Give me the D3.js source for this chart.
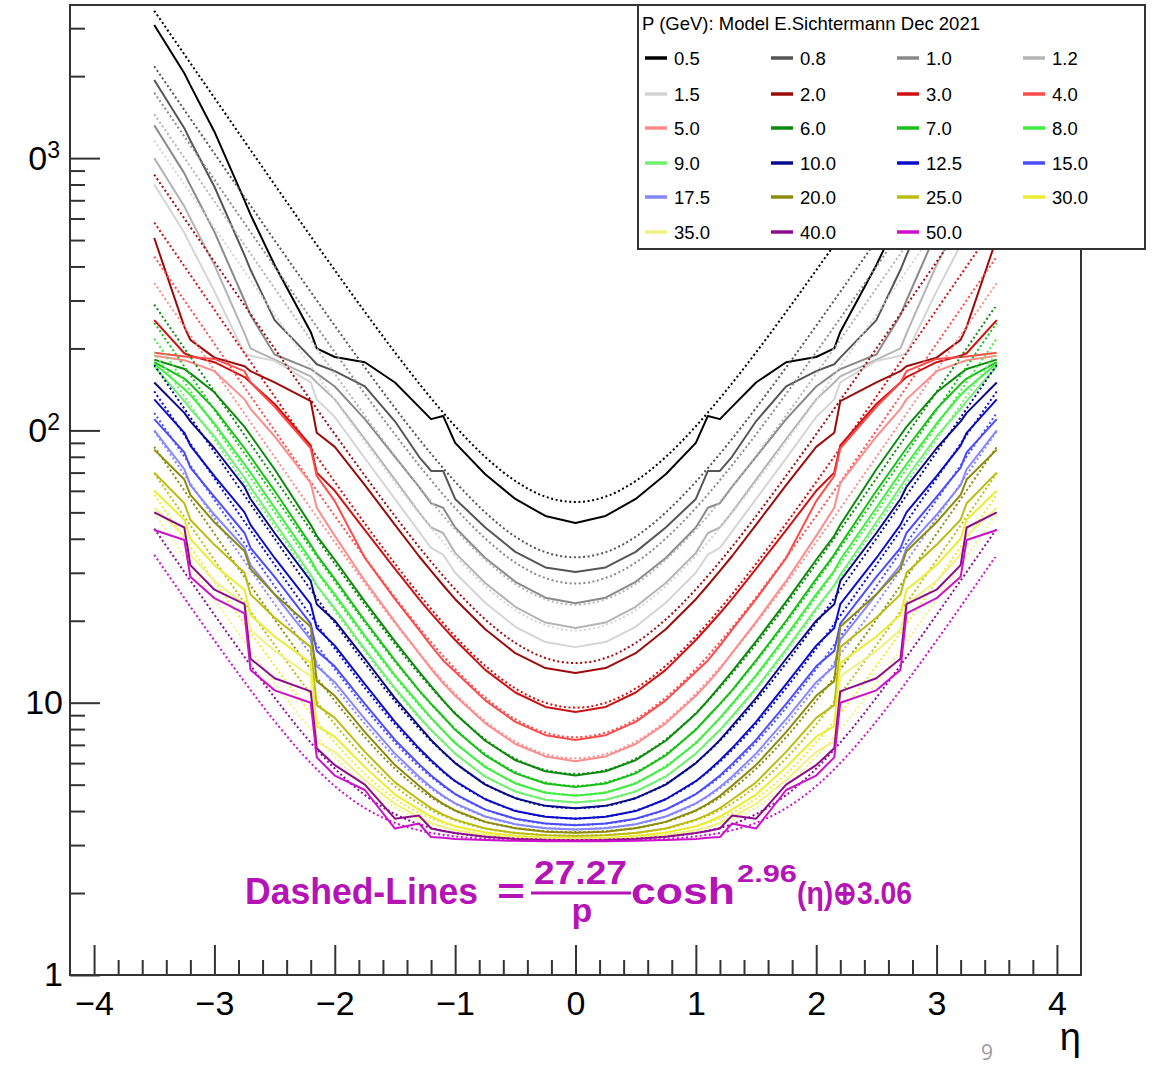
<!DOCTYPE html>
<html>
<head>
<meta charset="utf-8">
<script src="https://cdn.jsdelivr.net/npm/d3@7"></script>
<style>
  html, body { margin: 0; padding: 0; background: #fff; }
  svg { display: block; font-family: "Liberation Sans", Arial, Helvetica, sans-serif; }
</style>
</head>
<body>
<svg id="chart" width="1153" height="1065"></svg>
<script>
// Momentum bins (GeV) and their line colours
const momenta = ["0.5","0.8","1.0","1.2","1.5","2.0","3.0","4.0","5.0","6.0","7.0","8.0","9.0",
                 "10.0","12.5","15.0","17.5","20.0","25.0","30.0","35.0","40.0","50.0"];
const lineColors = ["#000000","#555555","#8a8a8a","#b4b4b4","#d4d4d4","#9c0a0a","#d01010","#ff4a4a",
                    "#ff8c8c","#0c8a0c","#18c018","#40ee40","#70f070","#0a0a8c","#0c0ccc","#4c4cff",
                    "#8686ff","#8c8c0c","#bcbc10","#ecec30","#f2f080","#8c0c8c","#cc10cc"];

// |eta| sampling points (curves are symmetric in eta)
const etaSolid  = [0, 0.25, 0.5, 0.75, 1.0, 1.1, 1.2, 1.3, 1.5, 1.75, 2.0, 2.15, 2.2, 2.5, 2.7, 2.75, 3.0, 3.2, 3.25, 3.5];
const etaDashed = [0, 0.25, 0.5, 0.75, 1.0, 1.25, 1.5, 1.75, 2.0, 2.25, 2.5, 2.75, 3.0, 3.25, 3.5];

// Model curves (solid), one array per momentum, sampled at etaSolid
const s0p5  = [45.7, 48.5, 56, 69, 90, 113, 110, 122, 150, 178, 186, 200, 230, 405, 620, 700, 1250, 1850, 2050, 3080];
const s0p8  = [30.2, 31.4, 35.8, 44, 56, 71, 71, 80, 108, 145, 165, 175, 185, 254, 389, 440, 785, 1161, 1288, 1936];
const s1p0  = [23.2, 24.3, 27.8, 34, 44, 52, 54, 62, 80, 110, 145, 162, 168, 190, 265, 300, 536, 793, 879, 1321];
const s1p2  = [18.8, 19.7, 22.5, 27.5, 35.5, 42, 44, 50, 66, 93, 130, 150, 158, 182, 200, 227, 405, 600, 665, 1000];
const s1p5  = [16.0, 16.7, 19, 23.3, 30, 35, 37, 42.5, 56, 79, 112, 130, 150, 180, 188, 192, 324, 480, 532, 800];
const s2p0  = [12.85, 13.4, 15.2, 18.6, 24, 27, 30.5, 34.5, 45, 63, 87, 98, 128, 150, 165, 172, 185, 215, 240, 509];
const s3p0  = [9.25, 9.65, 10.9, 13.2, 17, 19, 21.3, 24, 31, 43, 60, 70, 88, 125, 150, 157, 178, 188, 192, 254];
const s4p0  = [7.3, 7.6, 8.5, 10.2, 13.0, 14.3, 16.2, 18.5, 24, 34, 55, 68, 86, 122, 150, 165, 183, 186, 187, 193];
const s5p0  = [6.1, 6.35, 7.05, 8.4, 10.6, 11.8, 13.3, 15.2, 19.8, 28, 41, 52, 64, 95, 120, 130, 165, 178, 181, 188];
const s6p0  = [5.4, 5.6, 6.15, 7.25, 9.1, 10.2, 11.5, 13, 16.8, 23.5, 33.5, 41, 45, 72, 96, 103, 138, 162, 168, 182];
const s7p0  = [4.9, 5.05, 5.5, 6.4, 7.95, 8.9, 9.9, 11.1, 14.3, 20, 28.5, 35, 38, 60, 80, 86, 120, 148, 155, 178];
const s8p0  = [4.55, 4.67, 5.05, 5.8, 7.1, 7.9, 8.8, 9.9, 12.6, 17.6, 25, 30.5, 33.5, 52, 70, 75, 106, 135, 142, 176];
const s9p0  = [4.3, 4.4, 4.72, 5.35, 6.5, 7.2, 7.95, 8.9, 11.3, 15.7, 22.2, 27, 29.5, 46, 62, 67, 95, 120, 128, 172];
const s10p0 = [4.1, 4.18, 4.46, 5.0, 6.0, 6.6, 7.3, 8.2, 10.4, 14.5, 20, 23, 28, 42, 56, 62, 86, 108, 116, 150];
const s12p5 = [3.75, 3.81, 4.0, 4.42, 5.15, 5.6, 6.15, 6.8, 8.5, 11.7, 16.2, 18.8, 23, 34, 45, 50, 68, 88, 98, 130];
const s15p0 = [3.55, 3.6, 3.75, 4.05, 4.62, 4.98, 5.4, 5.95, 7.3, 9.9, 13.6, 15.5, 19.5, 29, 37, 42, 57, 73, 83, 110];
const s17p5 = [3.42, 3.46, 3.58, 3.82, 4.27, 4.55, 4.9, 5.35, 6.5, 8.7, 11.9, 13.6, 17, 25, 32, 37, 49, 63, 72, 100];
const s20p0 = [3.33, 3.36, 3.46, 3.65, 4.02, 4.25, 4.55, 4.95, 5.9, 7.8, 10.6, 12.0, 19, 25, 31, 36, 46, 58, 66, 85];
const s25p0 = [3.24, 3.26, 3.32, 3.45, 3.72, 3.88, 4.1, 4.4, 5.1, 6.6, 8.8, 9.8, 16, 20.5, 25, 30, 38, 47, 54, 70];
const s30p0 = [3.18, 3.19, 3.24, 3.34, 3.52, 3.65, 3.82, 4.05, 4.6, 5.8, 7.5, 8.2, 14, 17.5, 21, 26, 32, 40, 47, 60];
const s35p0 = [3.15, 3.16, 3.2, 3.27, 3.41, 3.5, 3.62, 3.8, 4.25, 5.2, 6.6, 7.2, 12.5, 15.5, 18.5, 23, 28, 35, 41, 52];
const s40p0 = [3.12, 3.13, 3.16, 3.22, 3.32, 3.38, 3.45, 3.85, 3.75, 5.0, 5.9, 6.8, 11.0, 12.3, 14.5, 23, 26, 32, 44, 50];
const s50p0 = [3.10, 3.10, 3.11, 3.13, 3.16, 3.19, 3.21, 3.6, 3.45, 4.78, 5.4, 6.3, 10.0, 11.1, 13.2, 21.3, 24.2, 29, 39.6, 43.1];

// Parametrisation (dashed), one array per momentum, sampled at etaDashed
const d0p5  = [54.6, 57.1, 65.2, 79.9, 103.6, 139.7, 193.4, 272.4, 387.6, 555, 799, 1152, 1664, 2404, 3478];
const d0p8  = [34.2, 35.7, 40.7, 50.0, 64.8, 87.3, 120.9, 170.3, 242.3, 347, 499, 720, 1040, 1503, 2174];
const d1p0  = [27.4, 28.7, 32.7, 40.1, 51.9, 69.9, 96.7, 136.2, 193.8, 277.6, 399.4, 576, 832, 1202, 1739];
const d1p2  = [22.9, 24.0, 27.3, 33.5, 43.3, 58.3, 80.6, 113.5, 161.5, 231.3, 332.8, 480, 693, 1002, 1449];
const d1p5  = [18.4, 19.3, 21.9, 26.8, 34.7, 46.7, 64.5, 90.8, 129.2, 185.1, 266.3, 384, 554.5, 801, 1159];
const d2p0  = [13.98, 14.6, 16.58, 20.22, 26.09, 35.06, 48.45, 68.17, 96.9, 138.8, 199.7, 288, 415.9, 601, 869.5];
const d3p0  = [9.59, 10.0, 11.28, 13.67, 17.54, 23.49, 32.38, 45.5, 64.67, 92.6, 133.1, 192, 277.3, 400.7, 579.7];
const d4p0  = [7.47, 7.77, 8.70, 10.45, 13.31, 17.73, 24.37, 34.19, 48.55, 69.47, 99.9, 144, 208, 300.5, 434.8];
const d5p0  = [6.25, 6.48, 7.20, 8.56, 10.81, 14.30, 19.58, 27.41, 38.88, 55.6, 79.94, 115.2, 166.4, 240.4, 347.8];
const d6p0  = [5.48, 5.66, 6.23, 7.33, 9.16, 12.04, 16.41, 22.91, 32.44, 46.37, 66.64, 96.05, 138.6, 200.3, 289.8];
const d7p0  = [4.95, 5.10, 5.57, 6.48, 8.01, 10.44, 14.15, 19.70, 27.86, 39.78, 57.14, 82.35, 118.8, 171.7, 248.4];
const d8p0  = [4.58, 4.70, 5.09, 5.86, 7.16, 9.25, 12.47, 17.30, 24.42, 34.83, 50.02, 72.07, 104.0, 150.3, 217.4];
const d9p0  = [4.31, 4.41, 4.74, 5.39, 6.52, 8.34, 11.17, 15.44, 21.75, 31.0, 44.48, 64.07, 92.5, 133.6, 193.2];
const d10p0 = [4.10, 4.18, 4.47, 5.03, 6.02, 7.63, 10.14, 13.96, 19.62, 27.93, 40.06, 57.68, 83.24, 120.2, 173.9];
const d12p5 = [3.76, 3.82, 4.02, 4.43, 5.15, 6.37, 8.32, 11.32, 15.80, 22.42, 32.10, 46.18, 66.61, 96.2, 139.1];
const d15p0 = [3.56, 3.60, 3.75, 4.06, 4.62, 5.57, 7.14, 9.58, 13.28, 18.76, 26.80, 38.52, 55.53, 80.19, 115.9];
const d17p5 = [3.43, 3.47, 3.58, 3.82, 4.26, 5.03, 6.32, 8.36, 11.49, 16.15, 23.03, 33.05, 47.63, 68.76, 99.4];
const d20p0 = [3.35, 3.38, 3.47, 3.65, 4.01, 4.64, 5.72, 7.47, 10.16, 14.21, 20.20, 28.96, 41.70, 60.18, 87.0];
const d25p0 = [3.25, 3.27, 3.33, 3.45, 3.70, 4.14, 4.93, 6.25, 8.33, 11.52, 16.27, 23.24, 33.41, 48.18, 69.63];
const d30p0 = [3.19, 3.20, 3.25, 3.34, 3.51, 3.84, 4.44, 5.47, 7.15, 9.75, 13.66, 19.44, 27.9, 40.19, 58.05];
const d35p0 = [3.16, 3.17, 3.20, 3.27, 3.40, 3.65, 4.12, 4.95, 6.33, 8.50, 11.81, 16.74, 23.97, 34.48, 49.78];
const d40p0 = [3.13, 3.14, 3.17, 3.22, 3.32, 3.52, 3.90, 4.58, 5.73, 7.58, 10.44, 14.72, 21.02, 30.21, 43.59];
const d50p0 = [3.11, 3.11, 3.13, 3.16, 3.23, 3.36, 3.62, 4.10, 4.94, 6.34, 8.55, 11.92, 16.92, 24.23, 34.91];

const solidSeries  = [s0p5, s0p8, s1p0, s1p2, s1p5, s2p0, s3p0, s4p0, s5p0, s6p0, s7p0, s8p0, s9p0,
                      s10p0, s12p5, s15p0, s17p5, s20p0, s25p0, s30p0, s35p0, s40p0, s50p0];
const dashedSeries = [d0p5, d0p8, d1p0, d1p2, d1p5, d2p0, d3p0, d4p0, d5p0, d6p0, d7p0, d8p0, d9p0,
                      d10p0, d12p5, d15p0, d17p5, d20p0, d25p0, d30p0, d35p0, d40p0, d50p0];

// Axis ticks
const xTickValues = [-4, -3, -2, -1, 0, 1, 2, 3, 4];
const yTickValues = [1, 10, 100, 1000];
const yTickExponents = { 100: "2", 1000: "3" };

// ---------------------------------------------------------------------------
const W = 1153, H = 1065;
const frame = { left: 70, right: 1081, top: 5, bottom: 975 };
const axisColor = "#333";
const formulaColor = "#b414b6";

const x = d3.scaleLinear().domain([-4.2, 4.2]).range([frame.left, frame.right]);
const y = d3.scaleLog().domain([1, 3650]).range([frame.bottom, frame.top]);

const svg = d3.select("#chart");
svg.append("rect").attr("width", W).attr("height", H).attr("fill", "#fff");

const defs = svg.append("defs");
defs.append("clipPath").attr("id", "plotClip").append("rect")
  .attr("x", frame.left).attr("y", frame.top)
  .attr("width", frame.right - frame.left).attr("height", frame.bottom - frame.top);
// the pad starts a little to the right of the canvas edge
defs.append("clipPath").attr("id", "padClip").append("rect")
  .attr("x", 27).attr("y", 0).attr("width", W - 27).attr("height", H);

// build a full -eta..+eta polyline from one symmetric half
function mirrored(etas, vals) {
  const pts = [];
  for (let i = etas.length - 1; i > 0; i--) pts.push([-etas[i], vals[i]]);
  for (let i = 0; i < etas.length; i++) pts.push([etas[i], vals[i]]);
  return pts;
}

const solidLine = d3.line().x(d => x(d[0])).y(d => y(d[1])).curve(d3.curveLinear);
const dashedLine = d3.line().x(d => x(d[0])).y(d => y(d[1])).curve(d3.curveMonotoneX);

const plot = svg.append("g").attr("clip-path", "url(#plotClip)");
momenta.forEach((p, i) => {
  plot.append("path")
    .attr("d", solidLine(mirrored(etaSolid, solidSeries[i])))
    .attr("fill", "none").attr("stroke", lineColors[i])
    .attr("stroke-width", 2).attr("stroke-linejoin", "round");
  plot.append("path")
    .attr("d", dashedLine(mirrored(etaDashed, dashedSeries[i])))
    .attr("fill", "none").attr("stroke", lineColors[i])
    .attr("stroke-width", 2).attr("stroke-dasharray", "2,2.6");
});

// ---- axes -----------------------------------------------------------------
const xMinorValues = d3.range(-20, 21).filter(k => k % 5 !== 0).map(k => k / 5);
const yMinorValues = [];
[1, 10, 100, 1000].forEach(dec => {
  for (let m = 2; m <= 9; m++) if (m * dec < 3650) yMinorValues.push(m * dec);
});

function styleAxis(g) {
  g.select(".domain").remove();
  g.selectAll(".tick line").attr("stroke", axisColor).attr("stroke-width", 2);
  g.attr("font-family", null).attr("font-size", null);
}

const gxMinor = svg.append("g").attr("transform", `translate(0,${frame.bottom})`)
  .call(d3.axisBottom(x).tickValues(xMinorValues).tickSize(-15).tickFormat(""));
styleAxis(gxMinor);
const gx = svg.append("g").attr("transform", `translate(0,${frame.bottom})`)
  .call(d3.axisBottom(x).tickValues(xTickValues).tickSize(-30).tickPadding(16).tickFormat(d3.format("d")));
styleAxis(gx);
gx.selectAll(".tick text").attr("font-size", 34).attr("fill", "#000");

const gyMinor = svg.append("g").attr("transform", `translate(${frame.left},0)`)
  .call(d3.axisLeft(y).tickValues(yMinorValues).tickSize(-15).tickFormat(""));
styleAxis(gyMinor);
const gyPad = svg.append("g").attr("clip-path", "url(#padClip)");
const gy = gyPad.append("g").attr("transform", `translate(${frame.left},0)`)
  .call(d3.axisLeft(y).tickValues(yTickValues).tickSize(-30).tickPadding(7).tickFormat(d3.format("d")));
styleAxis(gy);
gy.selectAll(".tick text").attr("font-size", 34).attr("fill", "#000")
  .each(function (d) {
    const exp = yTickExponents[d];
    if (!exp) return;
    const t = d3.select(this).text("").attr("dx", -3);
    t.append("tspan").text("10");
    t.append("tspan").attr("font-size", 23).attr("dy", "-12").text(exp);
  });

// frame
svg.append("rect")
  .attr("x", frame.left).attr("y", frame.top)
  .attr("width", frame.right - frame.left).attr("height", frame.bottom - frame.top)
  .attr("fill", "none").attr("stroke", axisColor).attr("stroke-width", 2);

// axis title
svg.append("text").attr("x", frame.right).attr("y", 1050).attr("text-anchor", "end")
  .attr("font-size", 38).attr("fill", "#000").text("η");

// ---- formula annotation ---------------------------------------------------
const formula = svg.append("g").attr("fill", formulaColor).attr("font-weight", "bold").attr("font-size", 34);
function piece(txt, x0, x1, base, size) {
  formula.append("text").attr("x", x0).attr("y", base).attr("font-size", size)
    .attr("textLength", x1 - x0).attr("lengthAdjust", "spacingAndGlyphs").text(txt);
}
piece("Dashed-Lines", 245, 478, 904, 36);
piece("=", 497, 525, 904, 36);
piece("27.27", 534, 627, 884, 34);
formula.append("line").attr("x1", 531).attr("x2", 631).attr("y1", 893).attr("y2", 893)
  .attr("stroke", formulaColor).attr("stroke-width", 3);
formula.append("text").attr("x", 582).attr("y", 922).attr("text-anchor", "middle")
  .attr("font-size", 34).text("p");
piece("cosh", 631, 735, 904, 36);
piece("2.96", 737, 797, 882, 24);
piece("(η)⊕3.06", 797, 912, 904, 32);

// ---- legend ---------------------------------------------------------------
const legend = svg.append("g");
legend.append("rect").attr("x", 638).attr("y", 5).attr("width", 507).attr("height", 244)
  .attr("fill", "#fff").attr("stroke", axisColor).attr("stroke-width", 2);
legend.append("text").attr("x", 642).attr("y", 30).attr("font-size", 18.5).attr("fill", "#000")
  .text("P (GeV): Model E.Sichtermann Dec 2021");
const colX = [645, 771, 897, 1023];
const rowY = [58, 94, 128, 163, 197, 232];
momenta.forEach((p, i) => {
  const cx = colX[i % 4], cy = rowY[Math.floor(i / 4)];
  legend.append("line").attr("x1", cx).attr("x2", cx + 22).attr("y1", cy).attr("y2", cy)
    .attr("stroke", lineColors[i]).attr("stroke-width", 3.5);
  legend.append("text").attr("x", cx + 29).attr("y", cy + 6.5).attr("font-size", 18.5)
    .attr("fill", "#000").text(p);
});

// slide number
svg.append("text").attr("x", 981).attr("y", 1060).attr("font-size", 21)
  .attr("font-family", "'Open Sans', sans-serif").attr("fill", "#9b9b9b").text("9");
</script>
</body>
</html>
